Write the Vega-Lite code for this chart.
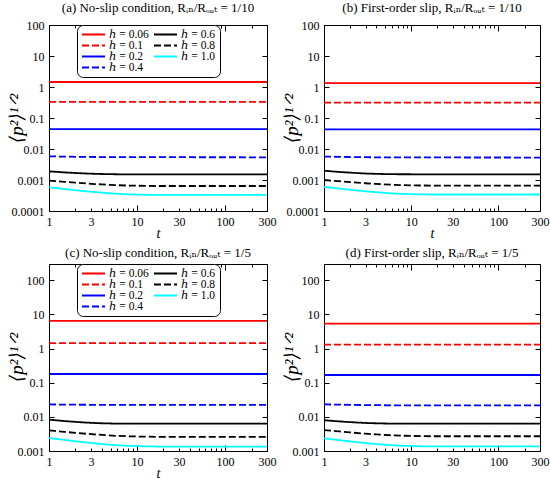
{
  "$schema": "https://vega.github.io/schema/vega-lite/v6.json",
  "background": "white",
  "padding": {"left": 6, "top": 1, "right": 2, "bottom": 0},
  "data": {
    "values": [
      {"panel": "a", "h": "0.06", "t": 1, "v": 1.45}, {"panel": "a", "h": "0.06", "t": 300, "v": 1.45},
      {"panel": "a", "h": "0.1", "t": 1, "v": 0.33}, {"panel": "a", "h": "0.1", "t": 300, "v": 0.33},
      {"panel": "a", "h": "0.2", "t": 1, "v": 0.044}, {"panel": "a", "h": "0.2", "t": 300, "v": 0.044},
      {"panel": "a", "h": "0.4", "t": 1, "v": 0.0058}, {"panel": "a", "h": "0.4", "t": 2, "v": 0.0056}, {"panel": "a", "h": "0.4", "t": 4, "v": 0.0055}, {"panel": "a", "h": "0.4", "t": 300, "v": 0.0054},
      {"panel": "a", "h": "0.6", "t": 1, "v": 0.0019}, {"panel": "a", "h": "0.6", "t": 1.5, "v": 0.00176}, {"panel": "a", "h": "0.6", "t": 2, "v": 0.00168}, {"panel": "a", "h": "0.6", "t": 3, "v": 0.0016}, {"panel": "a", "h": "0.6", "t": 4, "v": 0.00156}, {"panel": "a", "h": "0.6", "t": 6, "v": 0.00153}, {"panel": "a", "h": "0.6", "t": 10, "v": 0.00152}, {"panel": "a", "h": "0.6", "t": 300, "v": 0.00152},
      {"panel": "a", "h": "0.8", "t": 1, "v": 0.00095}, {"panel": "a", "h": "0.8", "t": 1.5, "v": 0.000871}, {"panel": "a", "h": "0.8", "t": 2, "v": 0.000818}, {"panel": "a", "h": "0.8", "t": 3, "v": 0.000755}, {"panel": "a", "h": "0.8", "t": 4, "v": 0.000721}, {"panel": "a", "h": "0.8", "t": 6, "v": 0.000679}, {"panel": "a", "h": "0.8", "t": 10, "v": 0.000653}, {"panel": "a", "h": "0.8", "t": 20, "v": 0.00064}, {"panel": "a", "h": "0.8", "t": 300, "v": 0.00064},
      {"panel": "a", "h": "1.0", "t": 1, "v": 0.00058}, {"panel": "a", "h": "1.0", "t": 1.5, "v": 0.000512}, {"panel": "a", "h": "1.0", "t": 2, "v": 0.000468}, {"panel": "a", "h": "1.0", "t": 3, "v": 0.000418}, {"panel": "a", "h": "1.0", "t": 4, "v": 0.000391}, {"panel": "a", "h": "1.0", "t": 6, "v": 0.000359}, {"panel": "a", "h": "1.0", "t": 10, "v": 0.000339}, {"panel": "a", "h": "1.0", "t": 20, "v": 0.00033}, {"panel": "a", "h": "1.0", "t": 300, "v": 0.00033},

      {"panel": "b", "h": "0.06", "t": 1, "v": 1.34}, {"panel": "b", "h": "0.06", "t": 300, "v": 1.34},
      {"panel": "b", "h": "0.1", "t": 1, "v": 0.315}, {"panel": "b", "h": "0.1", "t": 300, "v": 0.315},
      {"panel": "b", "h": "0.2", "t": 1, "v": 0.043}, {"panel": "b", "h": "0.2", "t": 300, "v": 0.043},
      {"panel": "b", "h": "0.4", "t": 1, "v": 0.0057}, {"panel": "b", "h": "0.4", "t": 2, "v": 0.0055}, {"panel": "b", "h": "0.4", "t": 4, "v": 0.0054}, {"panel": "b", "h": "0.4", "t": 300, "v": 0.0053},
      {"panel": "b", "h": "0.6", "t": 1, "v": 0.002}, {"panel": "b", "h": "0.6", "t": 1.5, "v": 0.00182}, {"panel": "b", "h": "0.6", "t": 2, "v": 0.00173}, {"panel": "b", "h": "0.6", "t": 3, "v": 0.00162}, {"panel": "b", "h": "0.6", "t": 4, "v": 0.00158}, {"panel": "b", "h": "0.6", "t": 6, "v": 0.00154}, {"panel": "b", "h": "0.6", "t": 10, "v": 0.00153}, {"panel": "b", "h": "0.6", "t": 300, "v": 0.00153},
      {"panel": "b", "h": "0.8", "t": 1, "v": 0.001}, {"panel": "b", "h": "0.8", "t": 1.5, "v": 0.000913}, {"panel": "b", "h": "0.8", "t": 2, "v": 0.000854}, {"panel": "b", "h": "0.8", "t": 3, "v": 0.000786}, {"panel": "b", "h": "0.8", "t": 4, "v": 0.000748}, {"panel": "b", "h": "0.8", "t": 6, "v": 0.000702}, {"panel": "b", "h": "0.8", "t": 10, "v": 0.000674}, {"panel": "b", "h": "0.8", "t": 20, "v": 0.00066}, {"panel": "b", "h": "0.8", "t": 300, "v": 0.00066},
      {"panel": "b", "h": "1.0", "t": 1, "v": 0.0006}, {"panel": "b", "h": "1.0", "t": 1.5, "v": 0.00053}, {"panel": "b", "h": "1.0", "t": 2, "v": 0.000484}, {"panel": "b", "h": "1.0", "t": 3, "v": 0.000432}, {"panel": "b", "h": "1.0", "t": 4, "v": 0.000403}, {"panel": "b", "h": "1.0", "t": 6, "v": 0.00037}, {"panel": "b", "h": "1.0", "t": 10, "v": 0.00035}, {"panel": "b", "h": "1.0", "t": 20, "v": 0.00034}, {"panel": "b", "h": "1.0", "t": 300, "v": 0.00034},

      {"panel": "c", "h": "0.06", "t": 1, "v": 6.5}, {"panel": "c", "h": "0.06", "t": 300, "v": 6.5},
      {"panel": "c", "h": "0.1", "t": 1, "v": 1.45}, {"panel": "c", "h": "0.1", "t": 300, "v": 1.45},
      {"panel": "c", "h": "0.2", "t": 1, "v": 0.18}, {"panel": "c", "h": "0.2", "t": 300, "v": 0.18},
      {"panel": "c", "h": "0.4", "t": 1, "v": 0.0231}, {"panel": "c", "h": "0.4", "t": 2, "v": 0.0227}, {"panel": "c", "h": "0.4", "t": 4, "v": 0.0225}, {"panel": "c", "h": "0.4", "t": 300, "v": 0.0224},
      {"panel": "c", "h": "0.6", "t": 1, "v": 0.0083}, {"panel": "c", "h": "0.6", "t": 1.5, "v": 0.00754}, {"panel": "c", "h": "0.6", "t": 2, "v": 0.00713}, {"panel": "c", "h": "0.6", "t": 3, "v": 0.00669}, {"panel": "c", "h": "0.6", "t": 4, "v": 0.00649}, {"panel": "c", "h": "0.6", "t": 6, "v": 0.00635}, {"panel": "c", "h": "0.6", "t": 10, "v": 0.0063}, {"panel": "c", "h": "0.6", "t": 300, "v": 0.0063},
      {"panel": "c", "h": "0.8", "t": 1, "v": 0.004}, {"panel": "c", "h": "0.8", "t": 1.5, "v": 0.00364}, {"panel": "c", "h": "0.8", "t": 2, "v": 0.0034}, {"panel": "c", "h": "0.8", "t": 3, "v": 0.00312}, {"panel": "c", "h": "0.8", "t": 4, "v": 0.00296}, {"panel": "c", "h": "0.8", "t": 6, "v": 0.00277}, {"panel": "c", "h": "0.8", "t": 10, "v": 0.00266}, {"panel": "c", "h": "0.8", "t": 20, "v": 0.0026}, {"panel": "c", "h": "0.8", "t": 300, "v": 0.0026},
      {"panel": "c", "h": "1.0", "t": 1, "v": 0.0024}, {"panel": "c", "h": "1.0", "t": 1.5, "v": 0.00212}, {"panel": "c", "h": "1.0", "t": 2, "v": 0.00193}, {"panel": "c", "h": "1.0", "t": 3, "v": 0.00172}, {"panel": "c", "h": "1.0", "t": 4, "v": 0.0016}, {"panel": "c", "h": "1.0", "t": 6, "v": 0.00147}, {"panel": "c", "h": "1.0", "t": 10, "v": 0.00139}, {"panel": "c", "h": "1.0", "t": 20, "v": 0.00135}, {"panel": "c", "h": "1.0", "t": 300, "v": 0.00135},

      {"panel": "d", "h": "0.06", "t": 1, "v": 5.4}, {"panel": "d", "h": "0.06", "t": 300, "v": 5.4},
      {"panel": "d", "h": "0.1", "t": 1, "v": 1.31}, {"panel": "d", "h": "0.1", "t": 300, "v": 1.31},
      {"panel": "d", "h": "0.2", "t": 1, "v": 0.168}, {"panel": "d", "h": "0.2", "t": 300, "v": 0.168},
      {"panel": "d", "h": "0.4", "t": 1, "v": 0.0232}, {"panel": "d", "h": "0.4", "t": 2, "v": 0.0225}, {"panel": "d", "h": "0.4", "t": 4, "v": 0.022}, {"panel": "d", "h": "0.4", "t": 10, "v": 0.0217}, {"panel": "d", "h": "0.4", "t": 300, "v": 0.0216},
      {"panel": "d", "h": "0.6", "t": 1, "v": 0.008}, {"panel": "d", "h": "0.6", "t": 1.5, "v": 0.00736}, {"panel": "d", "h": "0.6", "t": 2, "v": 0.00702}, {"panel": "d", "h": "0.6", "t": 3, "v": 0.00664}, {"panel": "d", "h": "0.6", "t": 4, "v": 0.00647}, {"panel": "d", "h": "0.6", "t": 6, "v": 0.00635}, {"panel": "d", "h": "0.6", "t": 10, "v": 0.0063}, {"panel": "d", "h": "0.6", "t": 300, "v": 0.0063},
      {"panel": "d", "h": "0.8", "t": 1, "v": 0.0041}, {"panel": "d", "h": "0.8", "t": 1.5, "v": 0.00374}, {"panel": "d", "h": "0.8", "t": 2, "v": 0.0035}, {"panel": "d", "h": "0.8", "t": 3, "v": 0.00322}, {"panel": "d", "h": "0.8", "t": 4, "v": 0.00306}, {"panel": "d", "h": "0.8", "t": 6, "v": 0.00288}, {"panel": "d", "h": "0.8", "t": 10, "v": 0.00276}, {"panel": "d", "h": "0.8", "t": 20, "v": 0.0027}, {"panel": "d", "h": "0.8", "t": 300, "v": 0.0027},
      {"panel": "d", "h": "1.0", "t": 1, "v": 0.00235}, {"panel": "d", "h": "1.0", "t": 1.5, "v": 0.00208}, {"panel": "d", "h": "1.0", "t": 2, "v": 0.00191}, {"panel": "d", "h": "1.0", "t": 3, "v": 0.00171}, {"panel": "d", "h": "1.0", "t": 4, "v": 0.0016}, {"panel": "d", "h": "1.0", "t": 6, "v": 0.00148}, {"panel": "d", "h": "1.0", "t": 10, "v": 0.0014}, {"panel": "d", "h": "1.0", "t": 20, "v": 0.00136}, {"panel": "d", "h": "1.0", "t": 300, "v": 0.00136}
    ]
  },
  "config": {
    "font": "Liberation Serif, DejaVu Serif",
    "view": {"stroke": "black", "strokeWidth": 1},
    "axis": {
      "grid": false,
      "domain": false,
      "minExtent": 0,
      "labelFont": "Liberation Serif, DejaVu Serif",
      "titleFont": "Liberation Serif, DejaVu Serif",
      "labelFontSize": 12,
      "labelColor": "black",
      "titleColor": "black",
      "tickColor": "black",
      "titleFontWeight": "normal",
      "labelOverlap": false,
      "labelFlush": false,
      "labelBound": false
    },
    "title": {"font": "Liberation Serif, DejaVu Serif", "fontSize": 13, "fontWeight": "normal", "color": "black", "offset": 0},
    "legend": {
      "orient": "none",
      "legendX": 28,
      "legendY": 0,
      "columns": 2,
      "columnPadding": 4,
      "rowPadding": -1,
      "clipHeight": 11,
      "symbolType": "stroke",
      "symbolSize": 529,
      "symbolStrokeWidth": 1.8,
      "labelFont": "Liberation Serif, DejaVu Serif",
      "labelFontSize": 11.5,
      "labelColor": "black",
      "labelOffset": 3,
      "strokeColor": "black",
      "fillColor": "white",
      "cornerRadius": 6,
      "padding": 4
    },
    "line": {"strokeWidth": 1.8, "interpolate": "monotone"}
  },
  "resolve": {
    "scale": {"color": "independent", "strokeDash": "independent"},
    "legend": {"color": "independent", "strokeDash": "independent"}
  },
  "columns": 2,
  "spacing": {"row": 5, "column": 4},
  "concat": [
    {
      "width": 218,
      "height": 186,
      "title": "(a) No-slip condition, Rᵢₙ/Rₒᵤₜ = 1/10",
      "transform": [{"filter": "datum.panel == 'a'"}],
      "layer": [
        {
          "mark": {"type": "line", "clip": true},
          "encoding": {
            "x": {"field": "t", "type": "quantitative", "scale": {"type": "log", "domain": [1, 300], "nice": false},
              "axis": {"orient": "bottom", "values": [1, 2, 3, 4, 5, 6, 7, 8, 9, 10, 20, 30, 40, 50, 60, 70, 80, 90, 100, 200, 300],
                "labelExpr": "indexof([1, 3, 10, 30, 100, 300], datum.value) >= 0 ? format(datum.value, 'd') : ''",
                "tickSize": {"condition": {"test": "indexof([1, 10, 100], datum.value) >= 0", "value": -6}, "value": -3},
                "labelPadding": {"condition": {"test": "indexof([1, 10, 100], datum.value) >= 0", "value": 11}, "value": 8},
                "title": "t", "titleFontStyle": "italic", "titleFontSize": 14, "titlePadding": -1}},
            "y": {"field": "v", "type": "quantitative", "scale": {"type": "log", "domain": [0.0001, 100], "nice": false},
              "axis": {"orient": "left", "values": [0.0001, 0.001, 0.01, 0.1, 1, 10, 100], "format": "~g", "tickSize": -5, "labelPadding": 10,
                "title": "⟨p²⟩¹ᐟ²", "titleFontSize": 19, "titleFontStyle": "italic", "titleX": -33, "titleY": 93, "titleAngle": -90, "titleAlign": "center", "titleBaseline": "middle"}},
            "color": {"field": "h", "type": "nominal",
              "scale": {"domain": ["0.06", "0.1", "0.2", "0.4", "0.6", "0.8", "1.0"], "range": ["#ff0000", "#ff0000", "#0000ff", "#0000ff", "#000000", "#000000", "#00ffff"]},
              "legend": {"title": null, "labelExpr": "'ℎ = ' + datum.label"}},
            "strokeDash": {"field": "h", "type": "nominal",
              "scale": {"domain": ["0.06", "0.1", "0.2", "0.4", "0.6", "0.8", "1.0"], "range": [[1, 0], [7, 3], [1, 0], [7, 3], [1, 0], [7, 3], [1, 0]]},
              "legend": {"title": null, "labelExpr": "'ℎ = ' + datum.label"}}
          }
        },
        {
          "mark": {"type": "point", "opacity": 0},
          "encoding": {
            "x": {"field": "t", "type": "quantitative",
              "axis": {"orient": "top", "values": [1, 2, 3, 4, 5, 6, 7, 8, 9, 10, 20, 30, 40, 50, 60, 70, 80, 90, 100, 200, 300], "labels": false, "title": null, "maxExtent": 0,
                "tickSize": {"condition": {"test": "indexof([1, 10, 100], datum.value) >= 0", "value": -6}, "value": -3}}},
            "y": {"field": "v", "type": "quantitative",
              "axis": {"orient": "right", "values": [0.0001, 0.001, 0.01, 0.1, 1, 10, 100], "labels": false, "title": null, "tickSize": -5, "maxExtent": 0}}
          }
        }
      ],
      "resolve": {"axis": {"x": "independent", "y": "independent"}}
    },
    {
      "width": 216,
      "height": 186,
      "title": "(b) First-order slip, Rᵢₙ/Rₒᵤₜ = 1/10",
      "transform": [{"filter": "datum.panel == 'b'"}],
      "layer": [
        {
          "mark": {"type": "line", "clip": true},
          "encoding": {
            "x": {"field": "t", "type": "quantitative", "scale": {"type": "log", "domain": [1, 300], "nice": false},
              "axis": {"orient": "bottom", "values": [1, 2, 3, 4, 5, 6, 7, 8, 9, 10, 20, 30, 40, 50, 60, 70, 80, 90, 100, 200, 300],
                "labelExpr": "indexof([1, 3, 10, 30, 100, 300], datum.value) >= 0 ? format(datum.value, 'd') : ''",
                "tickSize": {"condition": {"test": "indexof([1, 10, 100], datum.value) >= 0", "value": -6}, "value": -3},
                "labelPadding": {"condition": {"test": "indexof([1, 10, 100], datum.value) >= 0", "value": 11}, "value": 8},
                "title": "t", "titleFontStyle": "italic", "titleFontSize": 14, "titlePadding": -1}},
            "y": {"field": "v", "type": "quantitative", "scale": {"type": "log", "domain": [0.0001, 100], "nice": false},
              "axis": {"orient": "left", "values": [0.0001, 0.001, 0.01, 0.1, 1, 10, 100], "format": "~g", "tickSize": -5, "labelPadding": 10,
                "title": "⟨p²⟩¹ᐟ²", "titleFontSize": 19, "titleFontStyle": "italic", "titleX": -33, "titleY": 93, "titleAngle": -90, "titleAlign": "center", "titleBaseline": "middle"}},
            "color": {"field": "h", "type": "nominal",
              "scale": {"domain": ["0.06", "0.1", "0.2", "0.4", "0.6", "0.8", "1.0"], "range": ["#ff0000", "#ff0000", "#0000ff", "#0000ff", "#000000", "#000000", "#00ffff"]},
              "legend": null},
            "strokeDash": {"field": "h", "type": "nominal",
              "scale": {"domain": ["0.06", "0.1", "0.2", "0.4", "0.6", "0.8", "1.0"], "range": [[1, 0], [7, 3], [1, 0], [7, 3], [1, 0], [7, 3], [1, 0]]},
              "legend": null}
          }
        },
        {
          "mark": {"type": "point", "opacity": 0},
          "encoding": {
            "x": {"field": "t", "type": "quantitative",
              "axis": {"orient": "top", "values": [1, 2, 3, 4, 5, 6, 7, 8, 9, 10, 20, 30, 40, 50, 60, 70, 80, 90, 100, 200, 300], "labels": false, "title": null, "maxExtent": 0,
                "tickSize": {"condition": {"test": "indexof([1, 10, 100], datum.value) >= 0", "value": -6}, "value": -3}}},
            "y": {"field": "v", "type": "quantitative",
              "axis": {"orient": "right", "values": [0.0001, 0.001, 0.01, 0.1, 1, 10, 100], "labels": false, "title": null, "tickSize": -5, "maxExtent": 0}}
          }
        }
      ],
      "resolve": {"axis": {"x": "independent", "y": "independent"}}
    },
    {
      "width": 218,
      "height": 187,
      "title": "(c) No-slip condition, Rᵢₙ/Rₒᵤₜ = 1/5",
      "transform": [{"filter": "datum.panel == 'c'"}],
      "layer": [
        {
          "mark": {"type": "line", "clip": true},
          "encoding": {
            "x": {"field": "t", "type": "quantitative", "scale": {"type": "log", "domain": [1, 300], "nice": false},
              "axis": {"orient": "bottom", "values": [1, 2, 3, 4, 5, 6, 7, 8, 9, 10, 20, 30, 40, 50, 60, 70, 80, 90, 100, 200, 300],
                "labelExpr": "indexof([1, 3, 10, 30, 100, 300], datum.value) >= 0 ? format(datum.value, 'd') : ''",
                "tickSize": {"condition": {"test": "indexof([1, 10, 100], datum.value) >= 0", "value": -6}, "value": -3},
                "labelPadding": {"condition": {"test": "indexof([1, 10, 100], datum.value) >= 0", "value": 11}, "value": 8},
                "title": "t", "titleFontStyle": "italic", "titleFontSize": 14, "titlePadding": -1}},
            "y": {"field": "v", "type": "quantitative", "scale": {"type": "log", "domain": [0.001, 300], "nice": false},
              "axis": {"orient": "left", "values": [0.001, 0.01, 0.1, 1, 10, 100], "format": "~g", "tickSize": -5, "labelPadding": 10,
                "title": "⟨p²⟩¹ᐟ²", "titleFontSize": 19, "titleFontStyle": "italic", "titleX": -33, "titleY": 93, "titleAngle": -90, "titleAlign": "center", "titleBaseline": "middle"}},
            "color": {"field": "h", "type": "nominal",
              "scale": {"domain": ["0.06", "0.1", "0.2", "0.4", "0.6", "0.8", "1.0"], "range": ["#ff0000", "#ff0000", "#0000ff", "#0000ff", "#000000", "#000000", "#00ffff"]},
              "legend": {"title": null, "labelExpr": "'ℎ = ' + datum.label"}},
            "strokeDash": {"field": "h", "type": "nominal",
              "scale": {"domain": ["0.06", "0.1", "0.2", "0.4", "0.6", "0.8", "1.0"], "range": [[1, 0], [7, 3], [1, 0], [7, 3], [1, 0], [7, 3], [1, 0]]},
              "legend": {"title": null, "labelExpr": "'ℎ = ' + datum.label"}}
          }
        },
        {
          "mark": {"type": "point", "opacity": 0},
          "encoding": {
            "x": {"field": "t", "type": "quantitative",
              "axis": {"orient": "top", "values": [1, 2, 3, 4, 5, 6, 7, 8, 9, 10, 20, 30, 40, 50, 60, 70, 80, 90, 100, 200, 300], "labels": false, "title": null, "maxExtent": 0,
                "tickSize": {"condition": {"test": "indexof([1, 10, 100], datum.value) >= 0", "value": -6}, "value": -3}}},
            "y": {"field": "v", "type": "quantitative",
              "axis": {"orient": "right", "values": [0.001, 0.01, 0.1, 1, 10, 100], "labels": false, "title": null, "tickSize": -5, "maxExtent": 0}}
          }
        }
      ],
      "resolve": {"axis": {"x": "independent", "y": "independent"}}
    },
    {
      "width": 216,
      "height": 187,
      "title": "(d) First-order slip, Rᵢₙ/Rₒᵤₜ = 1/5",
      "transform": [{"filter": "datum.panel == 'd'"}],
      "layer": [
        {
          "mark": {"type": "line", "clip": true},
          "encoding": {
            "x": {"field": "t", "type": "quantitative", "scale": {"type": "log", "domain": [1, 300], "nice": false},
              "axis": {"orient": "bottom", "values": [1, 2, 3, 4, 5, 6, 7, 8, 9, 10, 20, 30, 40, 50, 60, 70, 80, 90, 100, 200, 300],
                "labelExpr": "indexof([1, 3, 10, 30, 100, 300], datum.value) >= 0 ? format(datum.value, 'd') : ''",
                "tickSize": {"condition": {"test": "indexof([1, 10, 100], datum.value) >= 0", "value": -6}, "value": -3},
                "labelPadding": {"condition": {"test": "indexof([1, 10, 100], datum.value) >= 0", "value": 11}, "value": 8},
                "title": null}},
            "y": {"field": "v", "type": "quantitative", "scale": {"type": "log", "domain": [0.001, 300], "nice": false},
              "axis": {"orient": "left", "values": [0.001, 0.01, 0.1, 1, 10, 100], "format": "~g", "tickSize": -5, "labelPadding": 10,
                "title": "⟨p²⟩¹ᐟ²", "titleFontSize": 19, "titleFontStyle": "italic", "titleX": -33, "titleY": 93, "titleAngle": -90, "titleAlign": "center", "titleBaseline": "middle"}},
            "color": {"field": "h", "type": "nominal",
              "scale": {"domain": ["0.06", "0.1", "0.2", "0.4", "0.6", "0.8", "1.0"], "range": ["#ff0000", "#ff0000", "#0000ff", "#0000ff", "#000000", "#000000", "#00ffff"]},
              "legend": null},
            "strokeDash": {"field": "h", "type": "nominal",
              "scale": {"domain": ["0.06", "0.1", "0.2", "0.4", "0.6", "0.8", "1.0"], "range": [[1, 0], [7, 3], [1, 0], [7, 3], [1, 0], [7, 3], [1, 0]]},
              "legend": null}
          }
        },
        {
          "mark": {"type": "point", "opacity": 0},
          "encoding": {
            "x": {"field": "t", "type": "quantitative",
              "axis": {"orient": "top", "values": [1, 2, 3, 4, 5, 6, 7, 8, 9, 10, 20, 30, 40, 50, 60, 70, 80, 90, 100, 200, 300], "labels": false, "title": null, "maxExtent": 0,
                "tickSize": {"condition": {"test": "indexof([1, 10, 100], datum.value) >= 0", "value": -6}, "value": -3}}},
            "y": {"field": "v", "type": "quantitative",
              "axis": {"orient": "right", "values": [0.001, 0.01, 0.1, 1, 10, 100], "labels": false, "title": null, "tickSize": -5, "maxExtent": 0}}
          }
        }
      ],
      "resolve": {"axis": {"x": "independent", "y": "independent"}}
    }
  ]
}
